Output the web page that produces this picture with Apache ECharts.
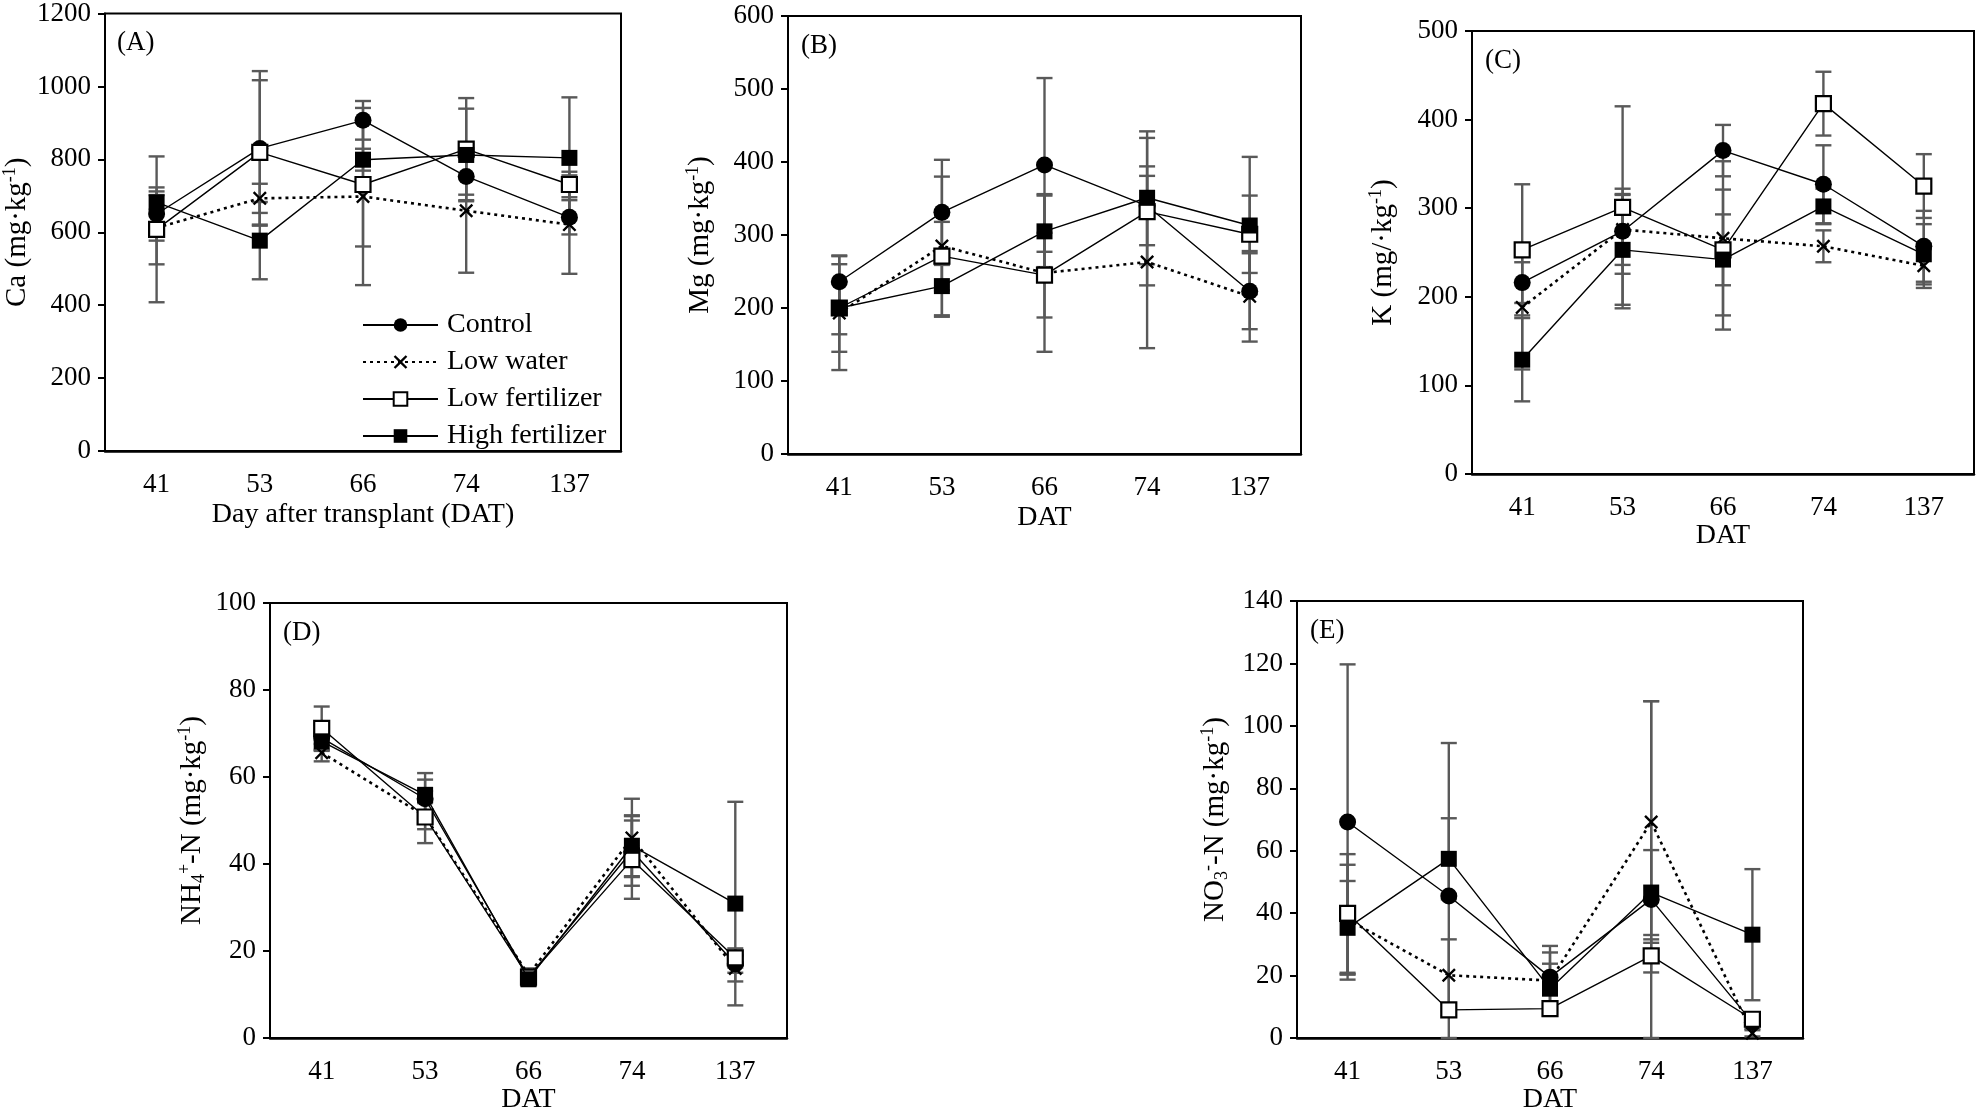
<!DOCTYPE html>
<html>
<head>
<meta charset="utf-8">
<script src="https://cdn.jsdelivr.net/npm/echarts@6/dist/echarts.min.js"></script>
<style>
html,body{margin:0;padding:0;background:#fff;}
#chart{width:1978px;height:1115px;}
</style>
</head>
<body>
<div id="chart"></div>
<script>
const categories = ['41', '53', '66', '74', '137'];
const treatments = ['Control', 'Low water', 'Low fertilizer', 'High fertilizer'];

// (A) Ca
const caControl = [650, 830, 907, 753, 641];
const caControlErr = [73, 212, 53, 50, 47];
const caLowWater = [612, 693, 698, 659, 621];
const caLowWaterErr = [100, 40, 243, 170, 135];
const caLowFert = [608, 819, 731, 828, 731];
const caLowFertErr = [200, 198, 170, 140, 35];
const caHighFert = [682, 577, 799, 812, 804];
const caHighFertErr = [20, 106, 30, 127, 166];

// (B) Mg
const mgControl = [236, 331, 396, 340, 223];
const mgControlErr = [36, 72, 119, 54, 52];
const mgLowWater = [193, 285, 248, 263, 216];
const mgLowWaterErr = [78, 95, 108, 118, 62];
const mgLowFert = [200, 271, 245, 332, 301];
const mgLowFertErr = [60, 47, 58, 101, 53];
const mgHighFert = [200, 230, 305, 351, 313];
const mgHighFertErr = [36, 42, 49, 91, 94];

// (C) K
const kControl = [216, 274, 365, 327, 257];
const kControlErr = [23, 48, 29, 44, 40];
const kLowWater = [188, 276, 266, 257, 235];
const kLowWaterErr = [70, 40, 87, 18, 25];
const kLowFert = [253, 301, 253, 418, 325];
const kLowFertErr = [74, 114, 40, 36, 36];
const kHighFert = [129, 253, 242, 302, 248];
const kHighFertErr = [47, 62, 79, 20, 34];

// (D) NH4+-N
const nhControl = [69, 55, 14, 43, 17];
const nhControlErr = [3, 4.4, 1.5, 8, 2];
const nhLowWater = [65.6, 51, 14.5, 46, 16];
const nhLowWaterErr = [2, 3, 1.5, 9, 3];
const nhLowFert = [71.2, 50.8, 14, 41, 18.4];
const nhLowFertErr = [5, 6, 1.5, 9, 2.2];
const nhHighFert = [68.2, 55.9, 13.5, 44.2, 30.9];
const nhHighFertErr = [2, 5, 1.5, 7, 23.4];

// (E) NO3--N
const noControl = [69.2, 45.5, 19.5, 44.4, 5];
const noControlErr = [50.5, 49, 10, 63.5, 2];
const noLowWater = [38, 20.1, 18.4, 69.2, 1.5];
const noLowWaterErr = [17.5, 11.5, 9, 38.7, 1];
const noLowFert = [39.9, 9, 9.4, 26.3, 6];
const noLowFertErr = [19, 2, 2.3, 5.3, 1.5];
const noHighFert = [35.3, 57.4, 15.8, 46.6, 33.1];
const noHighFertErr = [15, 13, 8, 13.6, 21];

const yMaxes = [1200, 600, 500, 100, 140];
const yIntervals = [200, 100, 100, 20, 20];
const panelLabels = ['(A)', '(B)', '(C)', '(D)', '(E)'];
const yNames = [
  '{n|Ca (mg·kg}{sup|-1}{n|)}',
  '{n|Mg (mg·kg}{sup|-1}{n|)}',
  '{n|K (mg/·kg}{sup|-1}{n|)}',
  '{n|NH}{sub|4}{sup|+}{n|-N (mg·kg}{sup|-1}{n|)}',
  '{n|NO}{sub|3}{sup|-}{n|-N (mg·kg}{sup|-1}{n|)}'
];
const xNames = ['Day after transplant (DAT)', 'DAT', 'DAT', 'DAT', 'DAT'];

const panelData = [
  [[caControl, caControlErr], [caLowWater, caLowWaterErr], [caLowFert, caLowFertErr], [caHighFert, caHighFertErr]],
  [[mgControl, mgControlErr], [mgLowWater, mgLowWaterErr], [mgLowFert, mgLowFertErr], [mgHighFert, mgHighFertErr]],
  [[kControl, kControlErr], [kLowWater, kLowWaterErr], [kLowFert, kLowFertErr], [kHighFert, kHighFertErr]],
  [[nhControl, nhControlErr], [nhLowWater, nhLowWaterErr], [nhLowFert, nhLowFertErr], [nhHighFert, nhHighFertErr]],
  [[noControl, noControlErr], [noLowWater, noLowWaterErr], [noLowFert, noLowFertErr], [noHighFert, noHighFertErr]]
];

// layout (pixels)
const grids = [
  {left: 104, top: 13, width: 517, height: 438},
  {left: 788, top: 16, width: 513, height: 438},
  {left: 1472, top: 31, width: 502, height: 443},
  {left: 270, top: 603, width: 517, height: 438},
  {left: 1297, top: 601, width: 506, height: 440}
];
const xNameGaps = [50, 50, 42, 48, 48];
const yNameGaps = [72, 72, 73, 62, 66];

const FONT = 'Liberation Serif';
const X_PATH = 'path://M0,1.2 L1.2,0 L5,3.8 L8.8,0 L10,1.2 L6.2,5 L10,8.8 L8.8,10 L5,6.2 L1.2,10 L0,8.8 L3.8,5 Z';

const symbolStyles = [
  {symbol: 'circle', symbolSize: 17, itemStyle: {color: '#000', borderColor: '#000', borderWidth: 0}, lineStyle: {color: '#000', width: 1.4, type: 'solid'}},
  {symbol: X_PATH, symbolSize: 14, itemStyle: {color: '#000', borderColor: '#000', borderWidth: 0}, lineStyle: {color: '#000', width: 2.6, type: [3, 4]}},
  {symbol: 'rect', symbolSize: 15, itemStyle: {color: '#fff', borderColor: '#000', borderWidth: 2.2}, lineStyle: {color: '#000', width: 1.4, type: 'solid'}},
  {symbol: 'rect', symbolSize: 16, itemStyle: {color: '#000', borderColor: '#000', borderWidth: 0}, lineStyle: {color: '#000', width: 1.4, type: 'solid'}}
];

function renderErr(params, api) {
  const idx = api.value(0);
  const lo = api.coord([idx, api.value(1)]);
  const hi = api.coord([idx, api.value(2)]);
  const w = 8;
  const style = {stroke: '#595959', lineWidth: 2.4, fill: null};
  return {
    type: 'group',
    children: [
      {type: 'line', shape: {x1: hi[0], y1: hi[1], x2: lo[0], y2: lo[1]}, style: style},
      {type: 'line', shape: {x1: hi[0] - w, y1: hi[1], x2: hi[0] + w, y2: hi[1]}, style: style},
      {type: 'line', shape: {x1: lo[0] - w, y1: lo[1], x2: lo[0] + w, y2: lo[1]}, style: style}
    ]
  };
}

const xAxes = [], yAxes = [], gridOpts = [], series = [], titles = [];
grids.forEach((g, i) => {
  gridOpts.push(Object.assign({show: true, borderColor: '#000', borderWidth: 2, backgroundColor: 'transparent', containLabel: false}, g));
  xAxes.push({
    type: 'category', gridIndex: i, data: categories, boundaryGap: true,
    axisLine: {lineStyle: {color: '#000', width: 2.5}},
    axisTick: {show: false},
    axisLabel: {color: '#000', fontFamily: FONT, fontSize: 27, margin: 20},
    name: xNames[i], nameLocation: 'middle', nameGap: xNameGaps[i],
    nameTextStyle: {color: '#000', fontFamily: FONT, fontSize: 28},
    splitLine: {show: false}
  });
  yAxes.push({
    type: 'value', gridIndex: i, min: 0, max: yMaxes[i], interval: yIntervals[i],
    axisLine: {show: true, lineStyle: {color: '#000', width: 2}},
    axisTick: {show: true, inside: false, length: 7, lineStyle: {color: '#000', width: 2}},
    axisLabel: {color: '#000', fontFamily: FONT, fontSize: 27, margin: 14, formatter: v => String(v)},
    splitLine: {show: false},
    name: yNames[i], nameLocation: 'middle', nameGap: yNameGaps[i], nameRotate: 90,
    nameTextStyle: {
      color: '#000', fontFamily: FONT,
      rich: {
        n: {fontFamily: FONT, fontSize: 29, lineHeight: 32, color: '#000', verticalAlign: 'middle'},
        sup: {fontFamily: FONT, fontSize: 18, lineHeight: 18, color: '#000', verticalAlign: 'top'},
        sub: {fontFamily: FONT, fontSize: 18, lineHeight: 16, color: '#000', verticalAlign: 'bottom'}
      }
    }
  });
  titles.push({
    text: panelLabels[i], left: g.left + 13, top: g.top + 16, padding: 0,
    textStyle: {fontFamily: FONT, fontSize: 27, fontWeight: 'normal', color: '#000'}
  });

  panelData[i].forEach((pair, j) => {
    const means = pair[0], errs = pair[1];
    const errData = means.map((m, k) => [k, Math.max(0, m - errs[k]), m + errs[k]]);
    series.push({
      type: 'custom', name: treatments[j] + ' err', xAxisIndex: i, yAxisIndex: i,
      data: errData, renderItem: renderErr, encode: {x: 0, y: [1, 2]}, z: 1, silent: true
    });
  });
  panelData[i].forEach((pair, j) => {
    const st = symbolStyles[j];
    series.push({
      type: 'line', name: treatments[j], xAxisIndex: i, yAxisIndex: i,
      data: pair[0], symbol: st.symbol, symbolSize: st.symbolSize, showSymbol: true,
      itemStyle: st.itemStyle, lineStyle: st.lineStyle, z: 3 + j, animation: false
    });
  });
});

const chart = echarts.init(document.getElementById('chart'), null, {renderer: 'canvas'});
chart.setOption({
  backgroundColor: '#fff',
  animation: false,
  title: titles,
  grid: gridOpts,
  xAxis: xAxes,
  yAxis: yAxes,
  legend: {
    data: treatments, orient: 'vertical', left: 362, top: 311, padding: 0,
    itemWidth: 75, itemHeight: 17, itemGap: 9, selectedMode: false,
    textStyle: {fontFamily: FONT, fontSize: 28, color: '#000', padding: [0, 0, 0, 4]}
  },
  series: series
});
</script>
</body>
</html>
